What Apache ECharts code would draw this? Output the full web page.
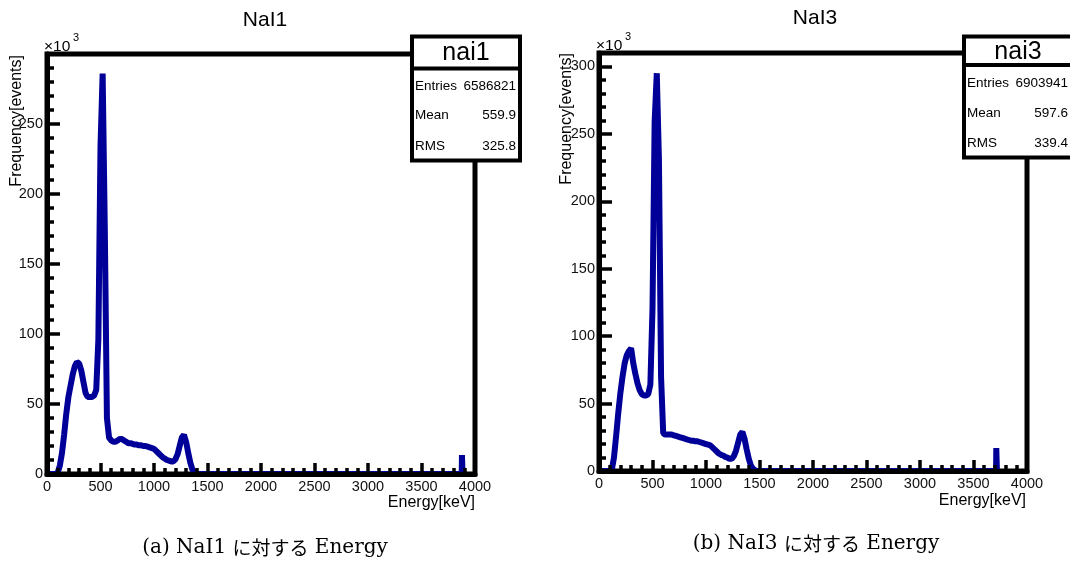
<!DOCTYPE html>
<html>
<head>
<meta charset="utf-8">
<title>NaI Energy</title>
<script src="https://cdn.jsdelivr.net/npm/echarts@6/dist/echarts.min.js"></script>
<style>
  html, body { margin: 0; padding: 0; background: #fff; }
  #main { width: 1070px; height: 562px; }
</style>
</head>
<body>
<div id="main"></div>
<script>
// bin centres in keV (20 keV bins), counts in units of 10^3 events
var energyBins = [0, 20, 40, 60, 80, 100, 120, 140, 160, 180, 200, 220, 240, 260, 280, 300, 320, 340, 360, 380,
  400, 420, 440, 460, 480, 500, 520, 540, 560, 580, 600, 620, 640, 660, 680, 700, 720, 740, 760, 780,
  800, 820, 840, 860, 880, 900, 920, 940, 960, 980, 1000, 1020, 1040, 1060, 1080, 1100, 1120, 1140, 1160, 1180,
  1200, 1220, 1240, 1260, 1280, 1300, 1320, 1340, 1360, 1380, 1400, 1420, 1440, 1460, 1480];

var nai1Counts = [0, 0, 0, 0, 0, 1, 6, 15, 28, 43, 55, 63, 71, 77, 80, 79, 74, 66, 58, 55,
  55, 55, 56, 60, 96, 234, 286, 176, 40, 26, 24, 23, 23, 24, 25, 25, 24, 23, 22, 22,
  21.5, 21, 21, 20.5, 20.5, 20, 20, 19.5, 19, 18.5, 18, 16.5, 15, 13.5, 12, 11, 10, 9.5, 9, 9,
  10.5, 14, 20, 26, 28, 23, 15, 8, 3, 1, 0.3, 0, 0, 0, 0];

var nai3Counts = [0, 0, 0, 0, 0, 0, 1, 10, 26, 43, 58, 70, 80, 86, 89, 91, 80, 72, 65, 60,
  57, 56, 56, 57, 64, 120, 259, 295, 231, 70, 28, 27, 27, 27, 27, 26.5, 26, 25.5, 25, 24.5,
  24, 23.5, 23, 22.5, 22.5, 22, 22, 21.5, 21, 20.5, 20, 19.5, 19, 17.5, 16, 14.5, 13, 12, 11.5, 10.5,
  10, 9, 9, 11, 15, 21, 27, 29, 24, 16, 9, 4, 1.5, 0.5, 0];

// lone high-energy bin in each spectrum
var nai1SpikeE = [3876, 3878, 3882, 3884];
var nai1SpikeV = [0, 13.5, 13.5, 0];
var nai3SpikeE = [3711, 3713, 3717, 3719];
var nai3SpikeV = [0, 17, 17, 0];

var nai1Stats = [['Entries', '6586821'], ['Mean', '559.9'], ['RMS', '325.8']];
var nai3Stats = [['Entries', '6903941'], ['Mean', '597.6'], ['RMS', '339.4']];

var sans = 'Liberation Sans, Arial, sans-serif';
var lineColor = '#000099';

function toPairs(xs, ys) {
  return xs.map(function (x, i) { return [x, ys[i]]; });
}

function xAxisFor(g) {
  return {
    gridIndex: g, type: 'value', min: 0, max: 4000, interval: 500, z: 5,
    axisLine: { show: true, onZero: false, lineStyle: { color: '#000', width: 5 } },
    axisTick: { show: true, inside: true, length: 11, lineStyle: { color: '#000', width: 3.5 } },
    minorTick: { show: true, splitNumber: 5, length: 6, lineStyle: { color: '#000', width: 3.5 } },
    splitLine: { show: false },
    axisLabel: {
      color: '#111', fontSize: 14.5, fontFamily: sans, margin: 5,
      formatter: function (v) { return String(v); }
    }
  };
}

function yAxisFor(g, yMax, lastLabel) {
  return {
    gridIndex: g, type: 'value', min: 0, max: yMax, interval: 50, z: 5,
    axisLine: { show: true, onZero: false, lineStyle: { color: '#000', width: 5 } },
    axisTick: { show: true, inside: true, length: 13, lineStyle: { color: '#000', width: 3.5 } },
    minorTick: { show: true, splitNumber: 5, length: 7, lineStyle: { color: '#000', width: 3.5 } },
    splitLine: { show: false },
    axisLabel: {
      color: '#111', fontSize: 14.5, fontFamily: sans, margin: 4,
      formatter: function (v) { return (v % 50 === 0 && v <= lastLabel) ? String(v) : ''; }
    }
  };
}

function seriesFor(g, counts, spikeE, spikeV) {
  return {
    type: 'line', xAxisIndex: g, yAxisIndex: g,
    symbol: 'none', showSymbol: false, animation: false, clip: true, z: 2,
    lineStyle: { color: lineColor, width: 6, join: 'bevel', cap: 'butt' },
    data: toPairs(energyBins, counts).concat(toPairs(spikeE, spikeV))
  };
}

function txt(x, y, text, size, align, extra) {
  var el = {
    type: 'text', x: x, y: y, z: 100,
    style: {
      text: text, font: size + 'px ' + sans, fill: '#000',
      align: align, textAlign: align, verticalAlign: 'middle', textVerticalAlign: 'middle'
    }
  };
  if (extra) { for (var k in extra) { el[k] = extra[k]; } }
  return el;
}

// stats box drawn over the top right corner of the frame
function statsBox(x, y, w, h, sepY, name, stats, rowsY) {
  var els = [
    { type: 'rect', z: 90, shape: { x: x, y: y, width: w, height: h },
      style: { fill: '#fff', stroke: '#000', lineWidth: 4 } },
    { type: 'line', z: 91, shape: { x1: x, y1: sepY, x2: x + w, y2: sepY },
      style: { stroke: '#000', lineWidth: 4 } },
    txt(x + w / 2, (y + sepY) / 2 + 1, name, 25, 'center')
  ];
  stats.forEach(function (row, i) {
    els.push(txt(x + 3, rowsY[i], row[0], 13.5, 'left'));
    els.push(txt(x + w - 4, rowsY[i], row[1], 13.5, 'right'));
  });
  return els;
}

function caption(cx, cy, label, name) {
  return {
    type: 'text', x: cx, y: cy, z: 100,
    style: {
      text: '{l|' + label + ' ' + name + ' }{j|に対する}{l| Energy}',
      align: 'center', textAlign: 'center', verticalAlign: 'middle', textVerticalAlign: 'middle',
      fill: '#000',
      rich: {
        l: { fontFamily: 'DejaVu Serif, Liberation Serif, serif', fontSize: 20, fill: '#000', color: '#000' },
        j: { fontFamily: 'Noto Sans CJK JP', fontSize: 19, fill: '#000', color: '#000' }
      }
    }
  };
}

var graphics = [
  txt(265, 20, 'NaI1', 21, 'center'),
  txt(815, 18, 'NaI3', 21, 'center'),
  // x10^3 multipliers
  txt(44, 47, '×10', 15.5, 'left', { z: 0 }),
  txt(73, 38, '3', 11, 'left', { z: 0 }),
  txt(596, 46, '×10', 15.5, 'left', { z: 0 }),
  txt(625, 37, '3', 11, 'left', { z: 0 }),
  // axis titles
  txt(17, 55, 'Frequency[events]', 16, 'right', { rotation: Math.PI / 2 }),
  txt(567, 53, 'Frequency[events]', 16, 'right', { rotation: Math.PI / 2 }),
  txt(475, 503, 'Energy[keV]', 16, 'right'),
  txt(1026, 501, 'Energy[keV]', 16, 'right'),
  caption(265, 548, '(a)', 'NaI1'),
  caption(816, 544, '(b)', 'NaI3')
].concat(
  statsBox(412, 36.5, 108, 124, 68.5, 'nai1', nai1Stats, [86, 115, 146]),
  statsBox(964, 36.5, 108, 121, 65, 'nai3', nai3Stats, [83, 113, 143])
);

var chart = echarts.init(document.getElementById('main'), null, { renderer: 'canvas' });
chart.setOption({
  backgroundColor: '#fff',
  animation: false,
  grid: [
    { left: 47, top: 54, width: 428, height: 420, show: true, borderColor: '#000', borderWidth: 5, backgroundColor: 'transparent' },
    { left: 599, top: 53, width: 428, height: 418, show: true, borderColor: '#000', borderWidth: 5, backgroundColor: 'transparent' }
  ],
  xAxis: [xAxisFor(0), xAxisFor(1)],
  yAxis: [yAxisFor(0, 300, 250), yAxisFor(1, 310, 300)],
  series: [
    seriesFor(0, nai1Counts, nai1SpikeE, nai1SpikeV),
    seriesFor(1, nai3Counts, nai3SpikeE, nai3SpikeV)
  ],
  graphic: graphics
});
</script>
</body>
</html>
